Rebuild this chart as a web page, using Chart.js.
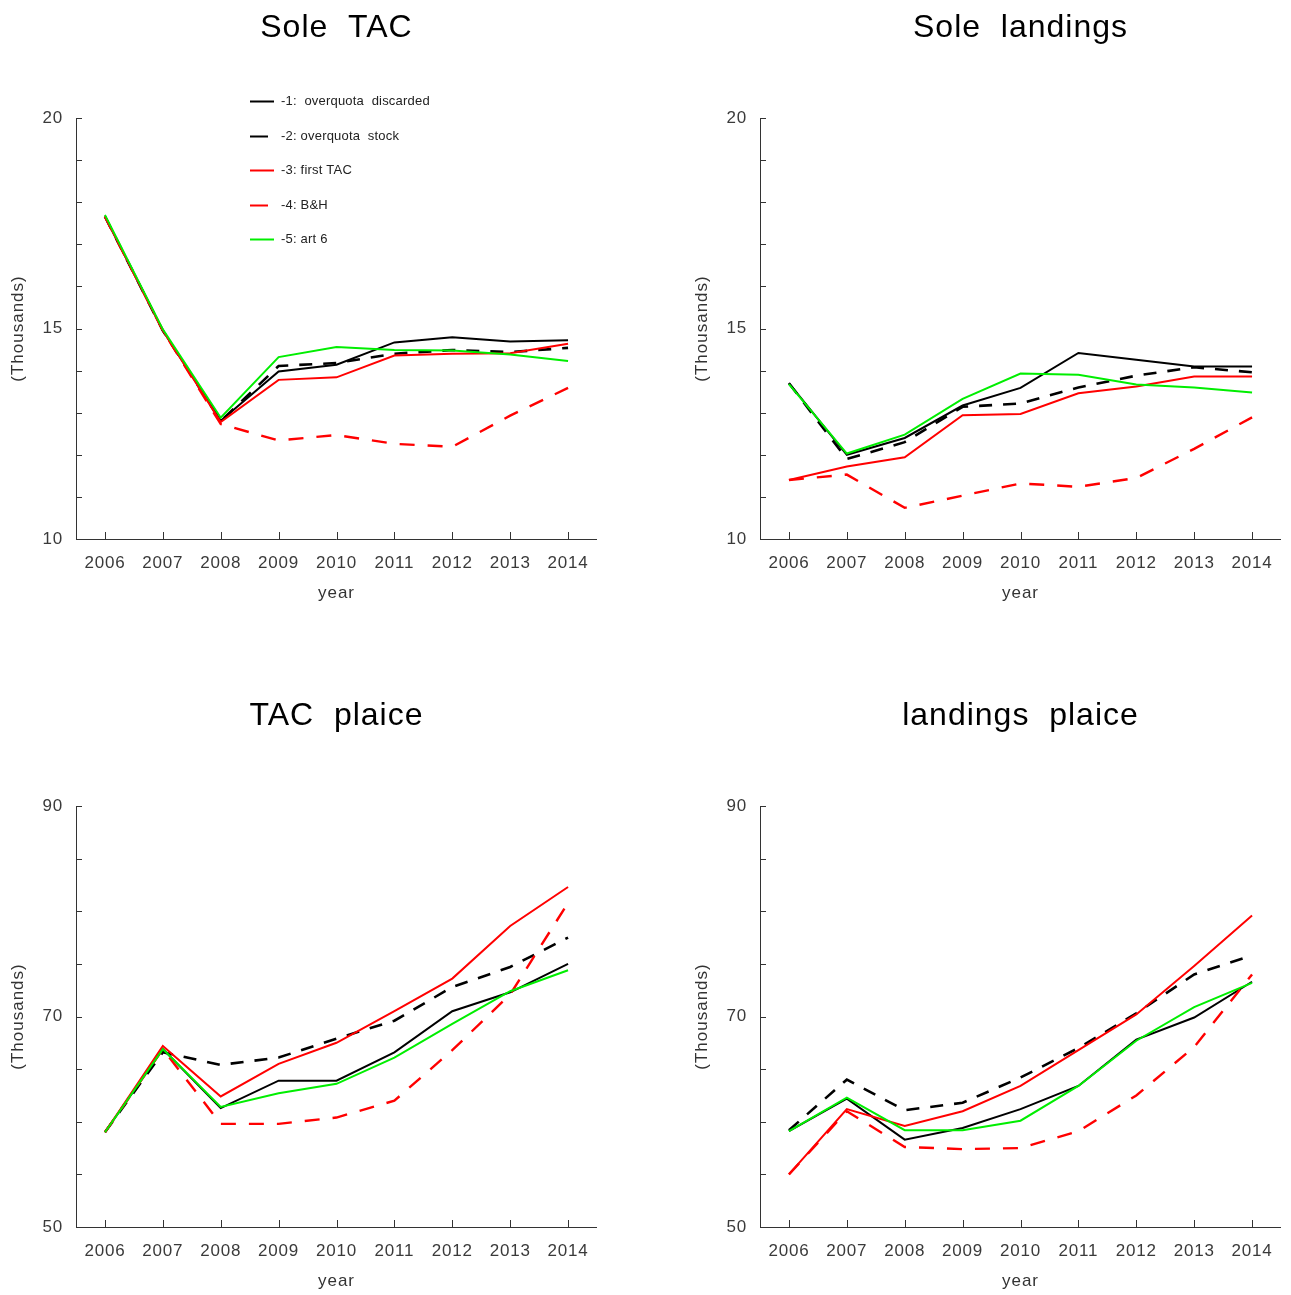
<!DOCTYPE html>
<html>
<head>
<meta charset="utf-8">
<title>Sole and plaice: TAC and landings by scenario</title>
<script src="https://cdn.jsdelivr.net/npm/chart.js@4/dist/chart.umd.min.js"></script>
<style>
  html, body { margin: 0; padding: 0; background: #fff; overflow: hidden; }
  body { width: 1291px; height: 1295px; position: relative; }
  canvas { position: absolute; }
</style>
</head>
<body>
<canvas id="soleTac" width="607" height="607" style="left:0;top:0"></canvas>
<canvas id="soleLand" width="607" height="607" style="left:684px;top:0"></canvas>
<canvas id="plaiceTac" width="607" height="607" style="left:0;top:688px"></canvas>
<canvas id="plaiceLand" width="607" height="607" style="left:684px;top:688px"></canvas>
<script>
// Years on the x axis
const years = ['2006', '2007', '2008', '2009', '2010', '2011', '2012', '2013', '2014'];

// Scenario names
const scenarioLabels = [
  '-1:  overquota  discarded',
  '-2: overquota  stock',
  '-3: first TAC',
  '-4: B&H',
  '-5: art 6'
];

// Sole TAC (thousand tonnes)
const soleTacDiscarded = [17.66, 14.95, 12.81, 13.98, 14.14, 14.67, 14.79, 14.69, 14.72];
const soleTacStock     = [17.66, 14.95, 12.80, 14.11, 14.18, 14.40, 14.49, 14.44, 14.54];
const soleTacFirst     = [17.66, 14.95, 12.78, 13.78, 13.84, 14.36, 14.40, 14.41, 14.64];
const soleTacBH        = [17.66, 14.95, 12.73, 12.34, 12.47, 12.26, 12.19, 12.93, 13.59];
const soleTacArt6      = [17.70, 14.98, 12.88, 14.32, 14.56, 14.49, 14.48, 14.38, 14.23];

// Sole landings (thousand tonnes)
const soleLandDiscarded = [13.70, 12.00, 12.40, 13.17, 13.59, 14.42, 14.26, 14.10, 14.10];
const soleLandStock     = [13.70, 11.90, 12.30, 13.14, 13.22, 13.60, 13.88, 14.08, 13.96];
const soleLandFirst     = [11.40, 11.72, 11.94, 12.94, 12.97, 13.46, 13.62, 13.86, 13.86];
const soleLandBH        = [11.40, 11.53, 10.74, 11.03, 11.32, 11.24, 11.45, 12.14, 12.89];
const soleLandArt6      = [13.68, 12.03, 12.48, 13.33, 13.93, 13.90, 13.67, 13.60, 13.48];

// Plaice TAC (thousand tonnes)
const plaiceTacDiscarded = [59.0, 66.9, 61.3, 63.9, 63.9, 66.6, 70.5, 72.3, 75.0];
const plaiceTacStock     = [59.0, 66.6, 65.4, 66.1, 67.9, 69.6, 72.8, 74.7, 77.5];
const plaiceTacFirst     = [59.0, 67.2, 62.4, 65.5, 67.5, 70.5, 73.6, 78.6, 82.3];
const plaiceTacBH        = [59.0, 66.9, 59.8, 59.8, 60.4, 62.0, 66.8, 72.1, 80.8];
const plaiceTacArt6      = [59.0, 66.9, 61.4, 62.7, 63.6, 66.1, 69.3, 72.4, 74.4];

// Plaice landings (thousand tonnes)
const plaiceLandDiscarded = [59.1, 62.2, 58.3, 59.4, 61.2, 63.4, 67.8, 69.9, 73.3];
const plaiceLandStock     = [59.2, 64.0, 61.1, 61.8, 64.2, 67.0, 70.3, 74.0, 75.8];
const plaiceLandFirst     = [55.0, 61.2, 59.6, 61.0, 63.4, 66.8, 70.2, 74.8, 79.6];
const plaiceLandBH        = [55.0, 61.0, 57.6, 57.4, 57.5, 59.1, 62.5, 67.1, 74.0];
const plaiceLandArt6      = [59.1, 62.3, 59.2, 59.2, 60.1, 63.4, 67.7, 70.9, 73.2];

// Labelled y ticks per panel
const soleTickLabels = [10, 15, 20];
const plaiceTickLabels = [50, 70, 90];

const FONT = "'Liberation Sans', Arial, sans-serif";

// Line styles for the five scenarios (last one drawn on top)
const styles = [
  { color: '#000000', dash: [],       width: 2,   order: 5 },
  { color: '#000000', dash: [13, 11], width: 2.6, order: 4 },
  { color: '#ff0000', dash: [],       width: 2,   order: 3 },
  { color: '#ff0000', dash: [15, 13], width: 2.4, order: 2 },
  { color: '#00ee00', dash: [],       width: 2,   order: 1 }
];

// Axis lines, inward tick marks, titles and the optional legend
const axisFrame = {
  id: 'axisFrame',
  beforeDraw(chart) {
    chart.ctx.letterSpacing = '0.8px';
  },
  afterDraw(chart, args, opts) {
    const ctx = chart.ctx;
    const a = chart.chartArea;
    const xs = chart.scales.x, ys = chart.scales.y;
    ctx.save();
    ctx.strokeStyle = '#333333';
    ctx.lineWidth = 1;
    ctx.beginPath();
    ctx.moveTo(a.left + 0.5, a.top);
    ctx.lineTo(a.left + 0.5, a.bottom + 0.5);
    ctx.lineTo(a.right, a.bottom + 0.5);
    ys.ticks.forEach(t => {
      const py = Math.round(ys.getPixelForValue(t.value)) + 0.5;
      ctx.moveTo(a.left, py);
      ctx.lineTo(a.left + 6, py);
    });
    xs.ticks.forEach((t, i) => {
      const px = Math.round(xs.getPixelForTick(i)) + 0.5;
      ctx.moveTo(px, a.bottom);
      ctx.lineTo(px, a.bottom - 7);
    });
    ctx.stroke();

    const cx = (a.left + a.right) / 2;

    // panel title
    ctx.fillStyle = '#000000';
    ctx.font = '32px ' + FONT;
    ctx.letterSpacing = '1px';
    ctx.textAlign = 'center';
    ctx.textBaseline = 'middle';
    ctx.fillText(opts.title, cx, 28);

    // axis titles
    ctx.letterSpacing = '1px';
    ctx.fillStyle = '#333333';
    ctx.font = '17px ' + FONT;
    ctx.fillText(opts.xTitle, cx, a.bottom + 54);
    ctx.save();
    ctx.translate(18, (a.top + a.bottom) / 2);
    ctx.rotate(-Math.PI / 2);
    ctx.fillText(opts.yTitle, 0, 0);
    ctx.restore();

    // legend
    if (opts.legend) {
      ctx.textAlign = 'left';
      ctx.font = '13px ' + FONT;
      ctx.letterSpacing = '0.2px';
      chart.data.datasets.forEach((ds, i) => {
        const y = Math.round(101 + i * 34.5) + 0.5;
        ctx.strokeStyle = ds.borderColor;
        ctx.lineWidth = 2;
        ctx.setLineDash([]);
        ctx.beginPath();
        ctx.moveTo(250, y);
        ctx.lineTo(ds.borderDash.length ? 268 : 274, y);
        ctx.stroke();
        ctx.fillStyle = '#222222';
        ctx.fillText(ds.label, 281, y);
      });
    }
    ctx.restore();
  }
};

function makeDatasets(series) {
  return series.map((values, i) => ({
    label: scenarioLabels[i],
    data: values,
    borderColor: styles[i].color,
    backgroundColor: styles[i].color,
    borderDash: styles[i].dash,
    borderWidth: styles[i].width,
    order: styles[i].order,
    pointRadius: 0,
    tension: 0,
    fill: false
  }));
}

function makeChart(id, title, series, yMin, yMax, yStep, tickLabels, legend) {
  return new Chart(document.getElementById(id), {
    type: 'line',
    data: { labels: years, datasets: makeDatasets(series) },
    plugins: [axisFrame],
    options: {
      responsive: false,
      animation: false,
      layout: { padding: { top: 118, right: 10, bottom: 0, left: 0 } },
      plugins: {
        legend: { display: false },
        title: { display: false },
        tooltip: { enabled: false },
        axisFrame: { title: title, xTitle: 'year', yTitle: '(Thousands)', legend: legend }
      },
      scales: {
        x: {
          type: 'category',
          offset: true,
          grid: { display: false, drawTicks: false },
          border: { display: false },
          ticks: {
            color: '#3a3a3a',
            font: { family: FONT, size: 17 },
            padding: 14,
            maxRotation: 0,
            autoSkip: false
          },
          afterFit(scale) { scale.height = 68; }
        },
        y: {
          min: yMin,
          max: yMax,
          grid: { display: false, drawTicks: false },
          border: { display: false },
          ticks: {
            stepSize: yStep,
            color: '#3a3a3a',
            font: { family: FONT, size: 17 },
            padding: 13,
            callback: v => tickLabels.includes(v) ? String(v) : ''
          },
          afterFit(scale) { scale.width = 76; }
        }
      }
    }
  });
}

makeChart('soleTac', 'Sole  TAC',
  [soleTacDiscarded, soleTacStock, soleTacFirst, soleTacBH, soleTacArt6],
  10, 20, 1, soleTickLabels, true);
makeChart('soleLand', 'Sole  landings',
  [soleLandDiscarded, soleLandStock, soleLandFirst, soleLandBH, soleLandArt6],
  10, 20, 1, soleTickLabels, false);
makeChart('plaiceTac', 'TAC  plaice',
  [plaiceTacDiscarded, plaiceTacStock, plaiceTacFirst, plaiceTacBH, plaiceTacArt6],
  50, 90, 5, plaiceTickLabels, false);
makeChart('plaiceLand', 'landings  plaice',
  [plaiceLandDiscarded, plaiceLandStock, plaiceLandFirst, plaiceLandBH, plaiceLandArt6],
  50, 90, 5, plaiceTickLabels, false);
</script>
</body>
</html>
